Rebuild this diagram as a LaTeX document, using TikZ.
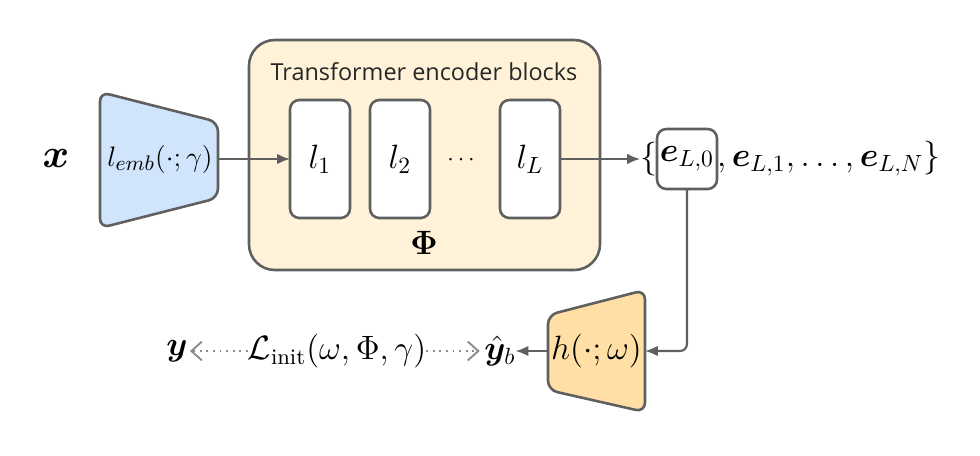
\documentclass[tikz,border=0pt]{standalone}
\usepackage{amsmath,amssymb,bm}
\usepackage{fontspec}
\newfontfamily\labelfont{Open Sans}
\usetikzlibrary{arrows.meta}
\definecolor{embblue}{HTML}{D0E4FC}
\definecolor{headorange}{HTML}{FFDFA6}
\definecolor{phicream}{HTML}{FFF2D9}
\definecolor{edgegray}{HTML}{5F5F5F}
\definecolor{dotgray}{HTML}{8A8A8A}

\begin{document}
\begin{tikzpicture}[x=0.015cm, y=-0.015cm, font=\Large,
  every node/.style={inner sep=0pt, outer sep=0pt},
  box/.style={draw=edgegray, line width=1.1pt, rounded corners=4pt},
  layerbox/.style={box, fill=white, minimum width=0.9cm, minimum height=1.77cm},
  arr/.style={draw=edgegray, line width=0.9pt, -{Latex[length=5.5pt,width=4.5pt]}},
  dotarr/.style={draw=dotgray, line width=0.8pt, dotted, -{Straight Barb[length=4.5pt,width=8pt]}}]
\useasboundingbox (0,0) rectangle (980,455);

\node[box, fill=phicream, rounded corners=11pt, minimum width=5.265cm, minimum height=3.45cm] (phi) at (424.5,155) {};
\node[text=black!85] (title) at (424,72) {\labelfont\normalsize Transformer encoder blocks};
\node[layerbox] (l1) at (320,159) {$l_1$};
\node[layerbox] (l2) at (400,159) {$l_2$};
\node[layerbox] (lL) at (530,159) {$l_L$};
\node (dots) at (463,160) {\normalsize$\cdots$};
\node (phisym) at (424,243) {$\boldsymbol{\Phi}$};

\draw[box, fill=embblue] (100,92) -- (218,122) -- (218,198) -- (100,228) -- cycle;
\node[minimum width=1.77cm, font=\fontsize{13}{15}\selectfont] (emb) at (160,159) {$l_{emb}(\cdot;\gamma)$};
\node (x) at (56,158) {\LARGE$\bm{x}$};

\node[box, minimum width=0.9cm, minimum height=0.9cm] (e0) at (687,159) {$\bm{e}_{L,0}$};
\node[anchor=east] (lb) at (e0.west) {$\{$};
\node[anchor=west] (rest) at (e0.east) {$,\bm{e}_{L,1},\dots,\bm{e}_{L,N}\}$};

\draw[box, fill=headorange] (548,315) -- (645,290) -- (645,412) -- (548,390) -- cycle;
\node[minimum width=1.455cm] (head) at (596.5,351) {$h(\cdot;\omega)$};
\node (yhat) at (500,351) {$\hat{\bm{y}}_b$};
\node[font=\fontsize{13.5}{16}\selectfont] (loss) at (337,351) {$\mathcal{L}_{\text{init}}(\omega,\Phi,\gamma)$};
\node (y) at (177,351) {$\bm{y}$};

\draw[arr] (head.west) -- (yhat.east);
\draw[arr] (emb.east) -- (l1.west);
\draw[arr] (lL.east) -- (lb.west);
\draw[arr, rounded corners=3pt] (e0.south) |- (head.east);
\draw[dotarr] (loss.west) -- ([xshift=1pt]y.east);
\draw[dotarr] (loss.east) -- ([xshift=-2pt]yhat.west);
\end{tikzpicture}
\end{document}
